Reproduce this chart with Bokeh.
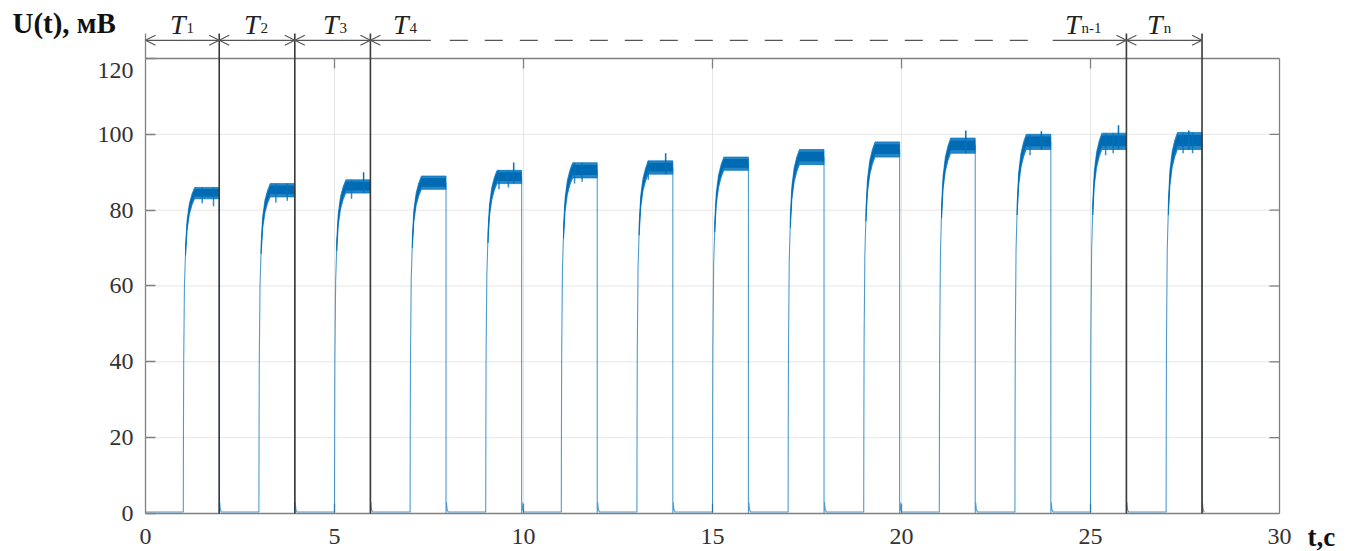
import math
from bokeh.plotting import figure
from bokeh.models import Range1d, FixedTicker, Label, Arrow, OpenHead
from bokeh.embed import file_html
from bokeh.resources import INLINE

# ---- measured signal U(t) ----
# switch-on / switch-off instants of each pulse, s
pulse_on = [1.0, 3.0, 5.0, 7.0, 9.0, 11.0, 13.0, 15.0, 17.0, 19.0, 21.0, 23.0, 25.0, 27.0]
pulse_off = [1.95, 3.95, 5.95, 7.95, 9.95, 11.95, 13.95, 15.95, 17.95, 19.95, 21.95, 23.95, 25.95, 27.95]
# lower / upper edge of the noisy plateau of each pulse, mV
plateau_low = [83.0, 83.5, 84.5, 85.5, 87.0, 88.5, 89.5, 90.5, 92.0, 94.0, 95.0, 96.0, 96.0, 96.0]
plateau_high = [86.0, 87.0, 88.0, 89.0, 90.5, 92.5, 93.0, 94.0, 96.0, 98.0, 99.0, 100.0, 100.3, 100.5]
# leading edge: time after switch-on, s, and fraction of the plateau level
rise_dt = [0.0, 0.004, 0.01, 0.03, 0.06, 0.1, 0.16, 0.23, 0.3]
rise_frac = [0.0, 0.25, 0.47, 0.71, 0.82, 0.9, 0.95, 0.98, 1.0]
# short relaxation right after switch-off: time, s, and level, mV
tail_dt = [0.0, 0.01, 0.03, 0.06]
tail_mv = [0.0, 3.0, 1.0, 0.4]
baseline_mv = 0.4
# isolated noise spikes above the plateaus and dips below them
spike_t = [5.77, 9.74, 13.76, 21.7, 23.7, 25.74, 27.6]
spike_mv = [90.0, 92.6, 95.0, 101.0, 100.8, 102.4, 101.0]
dip_t = [1.5, 1.8, 3.45, 3.75, 5.45, 9.35, 9.6, 11.35, 11.55, 13.3, 23.4, 25.4, 25.6, 27.45, 27.7]
dip_mv = [81.8, 81.0, 82.0, 82.5, 83.0, 85.5, 86.0, 87.0, 87.5, 88.0, 94.5, 94.5, 95.0, 95.0, 95.0]

# ---- period marks T1 ... Tn ----
period_edges = [1.95, 3.95, 5.95, 25.95, 27.95]
period_sub = ["1", "2", "3", "4", "n-1", "n"]
period_label_x = [1.19, 3.15, 5.24, 7.09, 24.87, 27.04]
arrow_x0 = [0.0, 1.95, 3.95, 5.95, 24.0, 25.95]
arrow_x1 = [1.95, 3.95, 5.95, 7.55, 25.95, 27.95]
arrow_head_start = [True, True, True, True, False, True]
arrow_head_end = [True, True, True, False, True, True]
dash_x0, dash_x1 = 8.05, 23.6
marker_top = 126.6
arrow_level = 124.8
label_level = 129.0

x_ticks = [0, 5, 10, 15, 20, 25, 30]
y_ticks = [0, 20, 40, 60, 80, 100, 120]
X_MIN, X_MAX = 0, 30
Y_MIN, Y_MAX = 0, 120

BLUE = "#0072BD"
FRAME = "#808080"
GRID = "#e6e6e6"
MARK = "#3a3a3a"
ARROW = "#555555"
SERIF = "Liberation Serif"

# the data frame fills the whole canvas; the plotting box 0..30 x 0..120 sits inside it
p = figure(width=1357, height=551,
           x_range=Range1d(-3.836, 32.063), y_range=Range1d(-10.02, 135.29),
           output_backend="svg", toolbar_location=None, min_border=0)
p.background_fill_color = "white"
p.border_fill_color = "white"
p.outline_line_color = None
p.xgrid.visible = False
p.ygrid.visible = False


def style_axis(ax, ticks):
    ax.ticker = FixedTicker(ticks=ticks)
    ax.axis_line_color = FRAME
    ax.axis_line_width = 1.3
    ax.major_tick_in = 10
    ax.major_tick_out = 0
    ax.major_tick_line_color = FRAME
    ax.major_tick_line_width = 1.3
    ax.minor_tick_line_color = None
    ax.major_label_text_font = SERIF
    ax.major_label_text_font_size = "24px"
    ax.major_label_text_color = "#333333"


xa = p.xaxis[0]
style_axis(xa, x_ticks)
xa.fixed_location = Y_MIN
xa.bounds = (X_MIN, X_MAX)
xa.major_label_standoff = 15
xa.major_tick_in = 0
ya = p.yaxis[0]
style_axis(ya, y_ticks)
ya.fixed_location = X_MIN
ya.bounds = (Y_MIN, Y_MAX)
ya.major_label_standoff = 12
ya.major_label_overrides = {120: ""}

# grid lines inside the box
gx = [t for t in x_ticks if X_MIN < t < X_MAX]
gy = [t for t in y_ticks if Y_MIN < t < Y_MAX]
p.segment(x0=gx, y0=[Y_MIN] * len(gx), x1=gx, y1=[Y_MAX] * len(gx), line_color=GRID, line_width=1)
p.segment(x0=[X_MIN] * len(gy), y0=gy, x1=[X_MAX] * len(gy), y1=gy, line_color=GRID, line_width=1)

# box: top and right edges, inward ticks on the other sides
p.segment(x0=[X_MIN, X_MAX], y0=[Y_MAX, Y_MIN], x1=[X_MAX, X_MAX], y1=[Y_MAX, Y_MAX],
          line_color=FRAME, line_width=1.3)
p.ray(x=gx, y=[Y_MIN] * len(gx), length=10, length_units="screen", angle=math.pi / 2,
      line_color=FRAME, line_width=1.3)
p.ray(x=gx, y=[Y_MAX] * len(gx), length=10, length_units="screen", angle=-math.pi / 2,
      line_color=FRAME, line_width=1.3)
p.ray(x=[X_MAX] * len(gy), y=gy, length=10, length_units="screen", angle=math.pi,
      line_color=FRAME, line_width=1.3)

# ---- build the trace ----
trace_t = [0.0]
trace_v = [baseline_mv]
outer_xs, outer_ys, inner_xs, inner_ys = [], [], [], []
for on, off, lo, hi in zip(pulse_on, pulse_off, plateau_low, plateau_high):
    mid = (lo + hi) / 2
    trace_t.append(on)
    trace_v.append(baseline_mv)
    for dt, fr in zip(rise_dt[1:], rise_frac[1:]):
        trace_t.append(on + dt)
        trace_v.append(mid * fr)
    trace_t.append(off)
    trace_v.append(mid)
    for dt, v in zip(tail_dt, tail_mv):
        trace_t.append(off + dt)
        trace_v.append(max(v, baseline_mv) if dt > 0 else v)
    # noisy band: upper edge forward, lower edge back
    pts = [(dt, fr) for dt, fr in zip(rise_dt, rise_frac) if fr >= 0.82]
    bx = [on + dt for dt, _ in pts] + [off]
    for a, b, xs_list, ys_list in ((lo, hi, outer_xs, outer_ys),
                                   (lo + 0.2 * (hi - lo), hi - 0.15 * (hi - lo), inner_xs, inner_ys)):
        up = [b * fr for _, fr in pts] + [b]
        dn = [a * fr for _, fr in pts] + [a]
        xs_list.append(bx + bx[::-1])
        ys_list.append(up + dn[::-1])

p.line(trace_t, trace_v, line_color=BLUE, line_width=1.1, line_alpha=0.7)
p.patches(outer_xs, outer_ys, fill_color=BLUE, fill_alpha=0.85, line_color=BLUE,
          line_alpha=0.7, line_width=1)
p.patches(inner_xs, inner_ys, fill_color="#006bb3", line_color=None)


def plateau_of(t, level):
    for on, off, lo, hi in zip(pulse_on, pulse_off, plateau_low, plateau_high):
        if on <= t <= off:
            return lo if level == "low" else hi
    return baseline_mv


p.segment(x0=spike_t, y0=[plateau_of(t, "low") for t in spike_t], x1=spike_t, y1=spike_mv,
          line_color=BLUE, line_width=1.5)
p.segment(x0=dip_t, y0=[plateau_of(t, "high") for t in dip_t], x1=dip_t, y1=dip_mv,
          line_color=BLUE, line_width=1.5, line_alpha=0.8)

# ---- period marks ----
for x in period_edges:
    p.add_layout(Arrow(x_start=x, y_start=Y_MIN, x_end=x, y_end=marker_top, start=None, end=None,
                       line_color=MARK, line_width=1.6))
p.add_layout(Arrow(x_start=X_MIN, y_start=Y_MAX, x_end=X_MIN, y_end=marker_top, start=None,
                   end=None, line_color=FRAME, line_width=1.3))


def head():
    return OpenHead(size=10, line_color=ARROW, line_width=1.2)


for x0, x1, hs, he in zip(arrow_x0, arrow_x1, arrow_head_start, arrow_head_end):
    p.add_layout(Arrow(x_start=x0, y_start=arrow_level, x_end=x1, y_end=arrow_level,
                       start=head() if hs else None, end=head() if he else None,
                       line_color=ARROW, line_width=1.2))
p.add_layout(Arrow(x_start=dash_x0, y_start=arrow_level, x_end=dash_x1, y_end=arrow_level,
                   start=None, end=None, line_color=ARROW, line_width=1.2, line_dash="18 17"))

for x, sub in zip(period_label_x, period_sub):
    p.add_layout(Label(x=x, y=label_level, text="T", text_align="right", x_offset=-5,
                       text_baseline="alphabetic", text_font=SERIF, text_font_style="italic",
                       text_font_size="28px", text_color="#222222"))
    p.add_layout(Label(x=x, y=label_level, text=sub, text_align="left", x_offset=-4, y_offset=-4,
                       text_baseline="alphabetic", text_font=SERIF,
                       text_font_size="15px", text_color="#222222"))

# ---- axis titles and the top tick label ----
p.add_layout(Label(x=X_MIN, y=116.8, x_offset=-12, text="120", text_align="right",
                   text_baseline="middle", text_font=SERIF, text_font_size="24px",
                   text_color="#333333"))
p.add_layout(Label(x=-3.52, y=129.3, text="U(t), мВ", text_align="left",
                   text_baseline="middle", text_font=SERIF, text_font_style="bold",
                   text_font_size="29px", text_color="#111111"))
p.add_layout(Label(x=30.74, y=-6.3, text="t,c", text_align="left",
                   text_baseline="middle", text_font=SERIF, text_font_style="bold",
                   text_font_size="27px", text_color="#111111"))

open("out.html", "w").write(file_html(p, INLINE))
